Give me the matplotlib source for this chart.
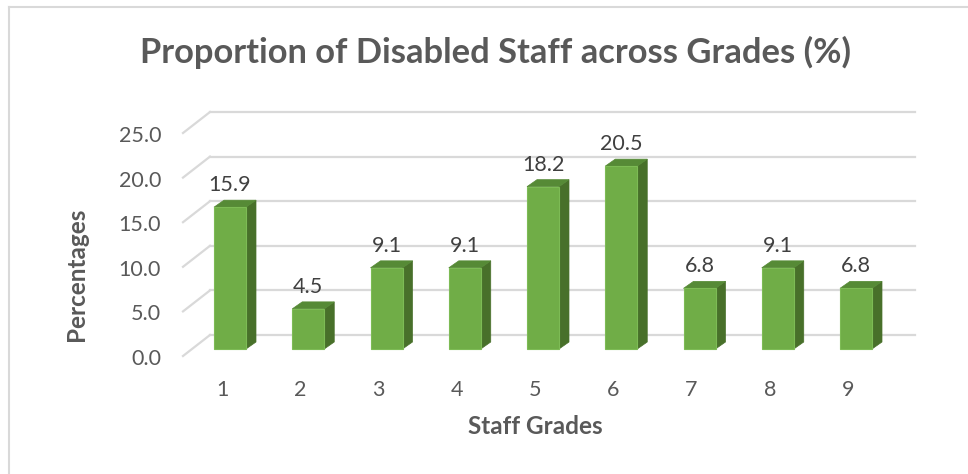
import matplotlib.pyplot as plt
from matplotlib.patches import Polygon, Rectangle
from matplotlib.lines import Line2D

# data
grades = ["1", "2", "3", "4", "5", "6", "7", "8", "9"]
values = [15.9, 4.5, 9.1, 9.1, 18.2, 20.5, 6.8, 9.1, 6.8]
yticks = [0, 5, 10, 15, 20, 25]

FONT = "Lato"
GREY = "#595959"
GRID = "#D9D9D9"
FRONT = "#70AD47"
SIDE = "#48702A"
TOP = "#568A36"

W, H = 968, 474
fig = plt.figure(figsize=(W / 100, H / 100), dpi=100)
ax = fig.add_axes([0, 0, 1, 1])

# one category = 78.25 px, one percent = 8.92 px; x=1 sits at px 230, y=0 at px 349
cx, cy = 78.25, 8.92
ax.set_xlim(1 - 230 / cx, 1 + (W - 230) / cx)
ax.set_ylim((349 - H) / cy, 349 / cy)
ax.axis("off")

# pseudo-3d offsets (data units)
half = 16 / cx                  # half bar width
ddx, ddy = 10 / cx, 7 / cy      # bar depth
wall_dy = 14 / cy               # back wall above bar base
wall_x0, wall_x1 = 1 - 20 / cx, 1 + 685 / cx
diag_x0, diag_dy = 1 - 47 / cx, -7 / cy

# gridlines on back wall + side diagonals
for v in yticks:
    ax.plot([wall_x0, wall_x1], [v + wall_dy] * 2, color=GRID, lw=1.6, zorder=1)
    ax.plot([diag_x0, wall_x0], [v + diag_dy, v + wall_dy], color=GRID, lw=1.6, zorder=1)
    ax.text(diag_x0 - 22 / cx, v + diag_dy - 3 / cy, f"{v:.1f}", ha="right", va="center",
            fontsize=15.5, color=GREY, family=FONT)

for i, (g, v) in enumerate(zip(grades, values), start=1):
    x0, x1 = i - half, i + half
    ax.add_patch(Polygon([(x1, 0), (x1 + ddx, ddy), (x1 + ddx, v + ddy), (x1, v)],
                         closed=True, fc=SIDE, ec=SIDE, lw=0.5, zorder=3))
    ax.add_patch(Polygon([(x0, v), (x0 + ddx, v + ddy), (x1 + ddx, v + ddy), (x1, v)],
                         closed=True, fc=TOP, ec=TOP, lw=0.5, zorder=3))
    ax.add_patch(Rectangle((x0, 0), 2 * half, v, fc=FRONT, ec="#7DBB55", lw=0.8, zorder=4))
    ax.text(i, v + 16 / cy, f"{v:.1f}", ha="center", va="baseline",
            fontsize=15.5, color="#404040", family=FONT, zorder=5)
    ax.text(i - 8 / cx, -41 / cy, g, ha="center", va="center",
            fontsize=15.5, color=GREY, family=FONT)

# titles
fig.text(495 / W, 1 - 52 / H, "Proportion of Disabled Staff across Grades (%)",
         ha="center", va="center", fontsize=24.8, fontweight="bold", color=GREY, family=FONT)
fig.text(535 / W, 1 - 427 / H, "Staff Grades", ha="center", va="center",
         fontsize=17.5, fontweight="bold", color=GREY, family=FONT)
fig.text(77 / W, 1 - 274 / H, "Percentages", ha="center", va="center", rotation=90,
         fontsize=17.5, fontweight="bold", color=GREY, family=FONT)

# chart frame (only top and left visible in the crop)
fig.add_artist(Line2D([8.5 / W, 8.5 / W], [0, 1 - 7 / H], transform=fig.transFigure,
                      color=GRID, lw=1.5))
fig.add_artist(Line2D([8.5 / W, 1], [1 - 7 / H, 1 - 7 / H], transform=fig.transFigure,
                      color=GRID, lw=1.5))

fig.savefig("out.png", dpi=100, facecolor="white")
